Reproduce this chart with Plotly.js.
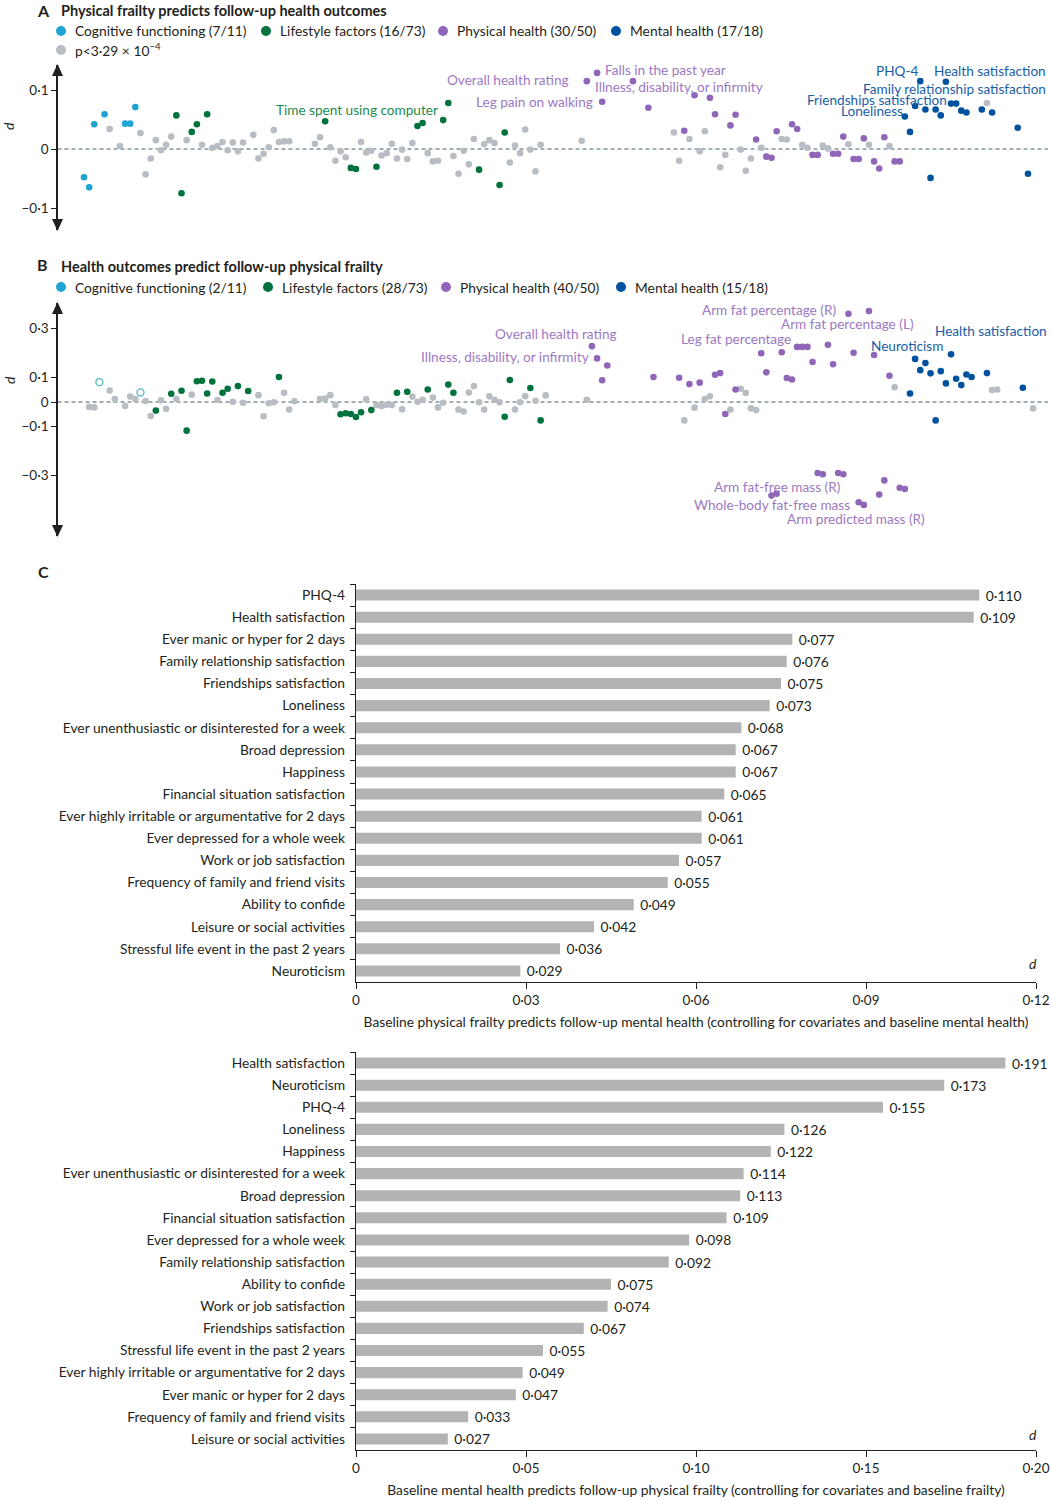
<!DOCTYPE html>
<html><head><meta charset="utf-8">
<script src="https://cdn.plot.ly/plotly-3.0.1.min.js"></script>
<style>body{margin:0;background:#fff}#chart{width:1050px;height:1500px}</style>
</head><body><div id="chart"></div>
<script>
// ---------- Panel A: physical frailty predicts follow-up outcomes ----------
const aCogX = [0,1,2,4,8,9,10];
const aCogD = [-0.048,-0.065,0.042,0.059,0.043,0.043,0.071];
const aLifeX = [18,19,21,22,24,47,52,53,57,65,66,70,71,77,81,82];
const aLifeD = [0.057,-0.075,0.029,0.042,0.059,0.047,-0.032,-0.034,-0.030,0.039,0.044,0.049,0.078,-0.035,-0.061,0.028];
const aPhysX = [98,100,101,107,110,117,119,122,123,126,127,131,133,134,135,138,139,142,143,146,147,148,150,151,152,154,155,156,158,159];
const aPhysD = [0.115,0.129,0.080,0.115,0.070,0.031,0.091,0.087,0.059,0.040,0.058,0.016,-0.013,-0.015,0.030,0.042,0.034,-0.010,-0.010,-0.008,-0.008,0.021,-0.017,-0.017,0.018,-0.021,-0.033,0.020,-0.021,-0.021];
const aMentX = [160,161,162,163,164,165,166,167,168,169,170,171,172,175,177,182,184];
const aMentD = [0.055,0.029,0.073,0.115,0.067,-0.049,0.067,0.057,0.114,0.077,0.077,0.065,0.062,0.067,0.062,0.036,-0.042];
const aNsX = [5,7,11,12,13,14,15,16,17,20,23,25,26,27,28,29,30,31,33,34,35,36,37,38,39,40,45,46,48,49,50,51,54,55,56,58,59,60,61,62,63,64,67,68,69,72,73,74,75,76,78,79,80,83,84,85,86,87,88,89,97,115,116,118,120,121,124,125,128,129,130,132,136,137,140,141,144,145,149,153,157,176];
const aNsD = [0.034,0.005,0.027,-0.043,-0.016,0.015,-0.002,0.007,0.021,0.015,0.007,0.002,0.005,0.012,-0.002,0.011,-0.004,0.011,0.024,-0.016,-0.008,0.003,0.032,0.012,0.013,0.013,0.009,0.020,0.003,-0.020,-0.004,-0.014,0.012,-0.006,-0.003,-0.011,-0.007,0.009,-0.016,-0.001,-0.017,0.010,-0.007,-0.021,-0.020,-0.012,-0.042,-0.003,-0.026,0.017,0.008,0.015,0.010,-0.023,0.006,-0.007,0.033,-0.001,-0.038,0.007,0.014,0.028,-0.020,0.017,-0.004,0.030,-0.031,-0.010,-0.001,-0.037,-0.016,0.002,0.017,0.016,0.007,0.002,0.006,0.001,0.008,0.007,0.005,0.078];

// ---------- Panel B: health outcomes predict follow-up frailty ----------
const bCogX = [3,11];
const bCogD = [0.081,0.039];
const bLifeX = [14,17,19,20,22,23,24,25,27,28,30,32,38,50,51,52,53,54,56,61,63,67,71,72,82,83,87,89];
const bLifeD = [-0.035,0.034,0.046,-0.117,0.085,0.087,0.035,0.084,0.038,0.054,0.065,0.045,0.102,-0.050,-0.046,-0.049,-0.061,-0.042,-0.033,0.038,0.042,0.051,0.071,0.038,-0.060,0.090,0.057,-0.075];
const bPhysX = [99,100,101,102,111,116,118,120,123,124,125,127,132,133,134,135,136,137,138,139,140,141,142,143,144,145,146,147,148,149,150,151,152,153,154,155,156,157,159,160];
const bPhysD = [0.228,0.178,0.089,0.149,0.102,0.099,0.073,0.079,0.111,0.118,-0.049,0.051,0.199,0.121,-0.382,-0.374,0.203,0.098,0.092,0.225,0.225,0.225,0.163,-0.290,-0.295,0.234,0.154,-0.290,-0.295,0.360,0.201,-0.409,-0.420,0.371,0.192,-0.378,-0.320,0.107,-0.350,-0.355];
const bMentX = [161,162,163,164,165,166,167,168,169,170,171,172,173,176,183];
const bMentD = [0.035,0.176,0.130,0.159,0.117,-0.075,0.126,0.076,0.195,0.095,0.069,0.112,0.102,0.118,0.058];
const bNsX = [1,2,5,6,8,9,10,12,13,15,16,18,21,26,29,31,34,35,36,37,39,40,41,46,47,48,49,55,57,58,59,60,62,64,65,66,68,69,70,73,74,75,76,77,78,79,80,81,84,85,86,88,90,98,117,119,121,122,126,128,129,130,131,158,177,178,185];
const bNsD = [-0.020,-0.022,0.047,0.012,-0.016,0.022,0.012,0.004,-0.057,0.007,-0.028,0.012,0.030,0.008,0.001,-0.003,0.028,-0.058,-0.005,-0.001,0.038,-0.031,0.003,0.012,0.014,0.028,-0.012,0.011,-0.012,-0.016,-0.011,-0.012,-0.030,0.022,0.001,0.009,0.018,-0.022,-0.003,-0.031,-0.039,0.039,0.065,-0.001,-0.031,0.023,0.009,-0.001,-0.031,-0.001,0.024,0.005,0.027,0.009,-0.075,-0.023,0.012,0.023,-0.031,0.054,0.037,-0.026,-0.033,0.060,0.049,0.051,-0.026];

// ---------- Panel C bar charts ----------
const c1Labels = ['PHQ-4','Health satisfaction','Ever manic or hyper for 2 days','Family relationship satisfaction','Friendships satisfaction','Loneliness','Ever unenthusiastic or disinterested for a week','Broad depression','Happiness','Financial situation satisfaction','Ever highly irritable or argumentative for 2 days','Ever depressed for a whole week','Work or job satisfaction','Frequency of family and friend visits','Ability to confide','Leisure or social activities','Stressful life event in the past 2 years','Neuroticism'];
const c1Values = [0.110,0.109,0.077,0.076,0.075,0.073,0.068,0.067,0.067,0.065,0.061,0.061,0.057,0.055,0.049,0.042,0.036,0.029];
const c2Labels = ['Health satisfaction','Neuroticism','PHQ-4','Loneliness','Happiness','Ever unenthusiastic or disinterested for a week','Broad depression','Financial situation satisfaction','Ever depressed for a whole week','Family relationship satisfaction','Ability to confide','Work or job satisfaction','Friendships satisfaction','Stressful life event in the past 2 years','Ever highly irritable or argumentative for 2 days','Ever manic or hyper for 2 days','Frequency of family and friend visits','Leisure or social activities'];
const c2Values = [0.191,0.173,0.155,0.126,0.122,0.114,0.113,0.109,0.098,0.092,0.075,0.074,0.067,0.055,0.049,0.047,0.033,0.027];
const c1Ticks = [0,0.03,0.06,0.09,0.12];
const c2Ticks = [0,0.05,0.10,0.15,0.20];
const aTicks = [-0.1,0,0.1];
const bTicks = [-0.3,-0.1,0,0.1,0.3];

const legendA = ['Cognitive functioning (7/11)','Lifestyle factors (16/73)','Physical health (30/50)','Mental health (17/18)'];
const legendB = ['Cognitive functioning (2/11)','Lifestyle factors (28/73)','Physical health (40/50)','Mental health (15/18)'];

// ---------- styling ----------
const COL = {cog:'#1ea3d2', life:'#00723d', phys:'#8f66b8', ment:'#00529f', ns:'#b7bdc3', hollow:'#45b6c2'};
const LBL = {life:'#1d8a4e', phys:'#9c79c4', ment:'#1a5ea8'};
const TXT = '#231f20';
const FONT = 'Lato, "Open Sans", sans-serif';
const W = 1050, H = 1500;
const X = p => p / W;
const Y = p => 1 - p / H;
const fmt1 = v => v === 0 ? '0' : (v < 0 ? '−' : '') + Math.abs(v).toFixed(1).replace('.', '·');
const fmt3 = v => '\u00a0' + v.toFixed(3).replace('.', '·');
const fmt2 = v => v === 0 ? '0' : v.toFixed(2).replace('.', '·');

function pts(x, y, color, xa, ya, size) {
  return {type:'scatter', mode:'markers', x:x, y:y, xaxis:xa, yaxis:ya, cliponaxis:false,
    marker:{color:color, size:size || 6.6, line:{width:0}}, hoverinfo:'x+y', showlegend:false};
}
const traces = [
  pts(aNsX, aNsD, COL.ns, 'x', 'y'),
  pts(aCogX, aCogD, COL.cog, 'x', 'y'),
  pts(aLifeX, aLifeD, COL.life, 'x', 'y'),
  pts(aPhysX, aPhysD, COL.phys, 'x', 'y'),
  pts(aMentX, aMentD, COL.ment, 'x', 'y'),
  pts(bNsX, bNsD, COL.ns, 'x2', 'y2'),
  {type:'scatter', mode:'markers', x:bCogX, y:bCogD, xaxis:'x2', yaxis:'y2', cliponaxis:false,
   marker:{symbol:'circle-open', color:COL.hollow, size:7, line:{width:1.3, color:COL.hollow}}, showlegend:false},
  pts(bLifeX, bLifeD, COL.life, 'x2', 'y2'),
  pts(bPhysX, bPhysD, COL.phys, 'x2', 'y2'),
  pts(bMentX, bMentD, COL.ment, 'x2', 'y2'),
  {type:'bar', orientation:'h', x:c1Values, y:c1Labels, xaxis:'x3', yaxis:'y3',
   marker:{color:'#b3b3b3', line:{width:0}}, text:c1Values.map(fmt3), textposition:'outside',
   textfont:{size:13.8, color:TXT, family:FONT}, cliponaxis:false, constraintext:'none', showlegend:false},
  {type:'bar', orientation:'h', x:c2Values, y:c2Labels, xaxis:'x4', yaxis:'y4',
   marker:{color:'#b3b3b3', line:{width:0}}, text:c2Values.map(fmt3), textposition:'outside',
   textfont:{size:13.8, color:TXT, family:FONT}, cliponaxis:false, constraintext:'none', showlegend:false}
];

const slotRange = [-5.17, 187.9];
const scatterX = {domain:[X(57.5), X(1048)], range:slotRange, visible:false, fixedrange:true};
const yAxBase = {showline:true, linecolor:TXT, linewidth:1.3, ticks:'outside', ticklen:5, tickwidth:1, tickcolor:TXT,
  showgrid:false, zeroline:false, tickfont:{size:13.5, color:TXT, family:FONT}};

function catAxis(domain, labels) {
  return {domain:domain, type:'category', range:[labels.length - 0.5, -0.5], showline:true, linecolor:TXT, linewidth:1.2,
    ticks:'outside', tickson:'boundaries', ticklen:5, tickcolor:TXT, showgrid:false, zeroline:false,
    tickfont:{size:13.8, color:TXT, family:FONT}, ticklabelstandoff:7};
}
function valAxis(domain, range, ticks, title, anchor) {
  return {domain:domain, range:range, anchor:anchor, showline:true, linecolor:TXT, linewidth:1.2, ticks:'outside', ticklen:6,
    tickcolor:TXT, tickvals:ticks, ticktext:ticks.map(fmt2), showgrid:false, zeroline:false,
    tickfont:{size:13.5, color:TXT, family:FONT},
    title:{text:title, font:{size:13.8, color:TXT, family:FONT}, standoff:10}};
}

const layout = {
  width:W, height:H, margin:{l:0, r:0, t:0, b:0}, paper_bgcolor:'#fff', plot_bgcolor:'rgba(0,0,0,0)',
  font:{family:FONT, color:TXT, size:13.5}, showlegend:false, bargap:0.5,
  xaxis: Object.assign({}, scatterX, {anchor:'y'}),
  yaxis: Object.assign({}, yAxBase, {domain:[Y(230), Y(65)], range:[-0.1373, 0.1424], anchor:'x',
      tickvals:aTicks, ticktext:aTicks.map(fmt1)}),
  xaxis2: Object.assign({}, scatterX, {anchor:'y2'}),
  yaxis2: Object.assign({}, yAxBase, {domain:[Y(536), Y(303)], range:[-0.5469, 0.4041], anchor:'x2',
      tickvals:bTicks, ticktext:bTicks.map(fmt1)}),
  xaxis3: valAxis([X(356), X(1036)], [0, 0.12], c1Ticks,
      'Baseline physical frailty predicts follow-up mental health (controlling for covariates and baseline mental health)', 'y3'),
  yaxis3: Object.assign(catAxis([Y(982), Y(584)], c1Labels), {anchor:'x3'}),
  xaxis4: valAxis([X(356), X(1036)], [0, 0.20], c2Ticks,
      'Baseline mental health predicts follow-up physical frailty (controlling for covariates and baseline frailty)', 'y4'),
  yaxis4: Object.assign(catAxis([Y(1450), Y(1052)], c2Labels), {anchor:'x4'}),
  shapes: [], annotations: []
};

// dashed zero lines
[['x','y'],['x2','y2']].forEach(([xa, ya]) => layout.shapes.push({type:'line', xref:xa + ' domain', yref:ya, x0:0, x1:1, y0:0, y1:0,
  line:{color:'#3e5f6e', width:1, dash:'4px,3px'}, layer:'below'}));

// axis arrowheads
function tri(cx, tipY, dir) {
  const hw = 5.5, h = 12 * dir;
  return {type:'path', xref:'paper', yref:'paper', fillcolor:TXT, line:{width:0},
    path:`M ${X(cx)},${Y(tipY)} L ${X(cx - hw)},${Y(tipY + h)} L ${X(cx + hw)},${Y(tipY + h)} Z`};
}
layout.shapes.push(tri(57.5, 64, 1), tri(57.5, 231, -1), tri(57.5, 302, 1), tri(57.5, 537, -1));

// legend dots and text
function dot(cx, cy, color) {
  const r = 5;
  return {type:'circle', xref:'paper', yref:'paper', x0:X(cx - r), x1:X(cx + r), y0:Y(cy + r), y1:Y(cy - r), fillcolor:color, line:{width:0}};
}
function txt(text, x, y, opts) {
  return Object.assign({text:text, xref:'paper', yref:'paper', x:X(x), y:Y(y), showarrow:false, xanchor:'left', yanchor:'middle',
    font:{size:13.8, color:TXT, family:FONT}}, opts || {});
}
const legCols = [COL.cog, COL.life, COL.phys, COL.ment];
const legAX = [61, 266, 443, 616];
const legBX = [61, 268, 446, 621];
legendA.forEach((t, i) => { layout.shapes.push(dot(legAX[i], 31, legCols[i])); layout.annotations.push(txt(t, legAX[i] + 12, 31)); });
layout.shapes.push(dot(61, 50, COL.ns));
layout.annotations.push(txt('p<3·29 × 10<sup>−4</sup>', 73, 50));
legendB.forEach((t, i) => { layout.shapes.push(dot(legBX[i], 287, legCols[i])); layout.annotations.push(txt(t, legBX[i] + 12, 287)); });

// panel headings
layout.annotations.push(
  txt('<b>A</b>', 35, 10, {font:{size:16, color:TXT, family:FONT}}),
  txt('<b>Physical frailty predicts follow-up health outcomes</b>', 59, 10, {font:{size:14.5, color:TXT, family:FONT}}),
  txt('<b>B</b>', 35, 265, {font:{size:16, color:TXT, family:FONT}}),
  txt('<b>Health outcomes predict follow-up physical frailty</b>', 59, 266, {font:{size:14.5, color:TXT, family:FONT}}),
  txt('<b>C</b>', 36, 571, {font:{size:16, color:TXT, family:FONT}}),
  txt('<i>d</i>', 9, 126, {xanchor:'center', textangle:-90, font:{size:14, color:TXT, family:FONT}}),
  txt('<i>d</i>', 9, 380, {xanchor:'center', textangle:-90, font:{size:14, color:TXT, family:FONT}}),
  txt('<i>d</i>', 1033, 963, {xanchor:'center', font:{size:14, color:TXT, family:FONT}}),
  txt('<i>d</i>', 1033, 1434, {xanchor:'center', font:{size:14, color:TXT, family:FONT}})
);

// point labels (text placement)
function lab(text, x, y, color, anchor) {
  return txt(text, x, y, {xanchor:anchor, font:{size:13.6, color:color, family:FONT}});
}
layout.annotations.push(
  lab('Time spent using computer', 440, 110, LBL.life, 'right'),
  lab('Overall health rating', 571, 80, LBL.phys, 'right'),
  lab('Leg pain on walking', 595, 102, LBL.phys, 'right'),
  lab('Falls in the past year', 603, 70, LBL.phys, 'left'),
  lab('Illness, disability, or infirmity', 593, 87, LBL.phys, 'left'),
  lab('PHQ-4', 920, 71, LBL.ment, 'right'),
  lab('Health satisfaction', 1048, 71, LBL.ment, 'right'),
  lab('Family relationship satisfaction', 1048, 89, LBL.ment, 'right'),
  lab('Friendships satisfaction', 949, 100, LBL.ment, 'right'),
  lab('Loneliness', 905, 111, LBL.ment, 'right'),
  lab('Overall health rating', 619, 334, LBL.phys, 'right'),
  lab('Illness, disability, or infirmity', 591, 357, LBL.phys, 'right'),
  lab('Arm fat percentage (R)', 838, 310, LBL.phys, 'right'),
  lab('Arm fat percentage (L)', 779, 324, LBL.phys, 'left'),
  lab('Leg fat percentage', 793, 339, LBL.phys, 'right'),
  lab('Health satisfaction', 1049, 331, LBL.ment, 'right'),
  lab('Neuroticism', 945, 346, LBL.ment, 'right'),
  lab('Arm fat-free mass (R)', 843, 487, LBL.phys, 'right'),
  lab('Whole-body fat-free mass', 852, 505, LBL.phys, 'right'),
  lab('Arm predicted mass (R)', 927, 519, LBL.phys, 'right')
);

Plotly.newPlot('chart', traces, layout, {staticPlot:true, displayModeBar:false});
</script></body></html>
